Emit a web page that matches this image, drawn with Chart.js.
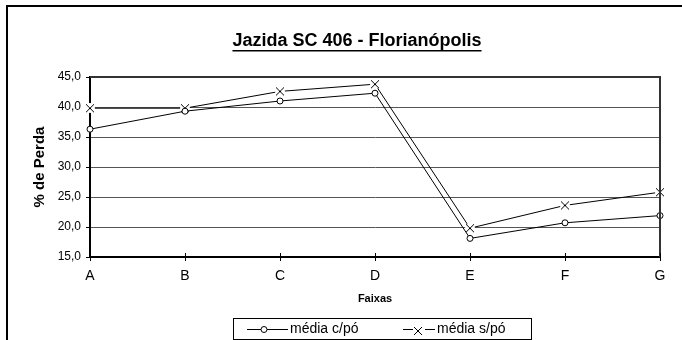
<!DOCTYPE html>
<html lang="pt">
<head>
<meta charset="utf-8">
<script src="https://cdn.jsdelivr.net/npm/chart.js@4.4.1/dist/chart.umd.min.js"></script>
<style>
  html, body { margin: 0; padding: 0; background: #fff; }
  #wrap { width: 682px; height: 340px; }
</style>
</head>
<body>
<div id="wrap"><canvas id="grafico" width="682" height="340"></canvas></div>
<script>
const faixas = ['A', 'B', 'C', 'D', 'E', 'F', 'G'];
const mediaComPo = [36.3, 39.3, 41.0, 42.3, 18.1, 20.7, 21.9];
const mediaSemPo = [39.8, 39.8, 42.6, 43.8, 19.8, 23.6, 25.8];
const yMin = 15, yMax = 45, yPasso = 5;
const titulo = 'Jazida SC 406 - Florianópolis';
const tituloY = '% de Perda';
const tituloX = 'Faixas';
const nomes = ['média c/pó', 'média s/pó'];

const fonte = '"Liberation Sans", Arial, sans-serif';

// X com fundo branco, a linha para antes do ponto
function marcaX(tam) {
  const c = document.createElement('canvas');
  c.width = tam; c.height = tam;
  const g = c.getContext('2d');
  g.fillStyle = '#fff';
  g.beginPath(); g.arc(tam / 2, tam / 2, tam / 2, 0, Math.PI * 2); g.fill();
  g.strokeStyle = '#000'; g.lineWidth = 1;
  g.beginPath();
  g.moveTo(1, 1); g.lineTo(tam - 1, tam - 1);
  g.moveTo(tam - 1, 1); g.lineTo(1, tam - 1);
  g.stroke();
  return c;
}
const xis = marcaX(10);

// moldura, titulo, legenda
const moldura = {
  id: 'moldura',
  beforeDraw(chart) {
    const ctx = chart.ctx;
    ctx.save();
    ctx.fillStyle = '#fff';
    ctx.fillRect(0, 0, chart.width, chart.height);
    ctx.strokeStyle = '#000';
    ctx.lineWidth = 2;
    ctx.beginPath();
    ctx.moveTo(6, 6); ctx.lineTo(chart.width, 6);
    ctx.moveTo(7, 6); ctx.lineTo(7, chart.height);
    ctx.stroke();
    ctx.restore();
  },
  afterDraw(chart) {
    const ctx = chart.ctx;
    const a = chart.chartArea;
    const sx = chart.scales.x;
    ctx.save();
    // borda de cima e da direita
    ctx.strokeStyle = '#333';
    ctx.lineWidth = 2;
    ctx.beginPath();
    ctx.moveTo(a.left, a.top); ctx.lineTo(a.right, a.top); ctx.lineTo(a.right, a.bottom);
    ctx.stroke();
    // tracinhos do eixo x para cima
    ctx.strokeStyle = '#000';
    ctx.lineWidth = 1;
    ctx.beginPath();
    sx.ticks.forEach((t, i) => {
      const px = Math.round(sx.getPixelForTick(i)) + 0.5;
      ctx.moveTo(px, a.bottom - 4); ctx.lineTo(px, a.bottom);
    });
    ctx.stroke();

    // titulo sublinhado
    ctx.fillStyle = '#000';
    ctx.font = 'bold 18px ' + fonte;
    ctx.textAlign = 'center';
    ctx.textBaseline = 'alphabetic';
    ctx.fillText(titulo, 357, 46);
    const w = ctx.measureText(titulo).width;
    ctx.fillRect(357 - w / 2, 50, w, 1.5);

    // legenda
    ctx.lineWidth = 1;
    ctx.strokeRect(233.5, 318.5, 298, 21);
    const yc = 329.5;
    const itens = [
      { seg: [[247, 288]], m: 264, tx: 290 },
      { seg: [[403, 413], [425, 435]], m: 418, tx: 437 }
    ];
    ctx.font = '14px ' + fonte;
    ctx.textAlign = 'left';
    ctx.textBaseline = 'middle';
    chart.data.datasets.forEach((ds, i) => {
      const it = itens[i];
      ctx.beginPath();
      it.seg.forEach(s => { ctx.moveTo(s[0], yc); ctx.lineTo(s[1], yc); });
      ctx.stroke();
      if (i === 0) {
        ctx.beginPath();
        ctx.arc(it.m, yc, 3, 0, Math.PI * 2);
        ctx.fillStyle = '#fff'; ctx.fill(); ctx.stroke();
      } else {
        ctx.drawImage(xis, it.m - 5, Math.round(yc - 4));
      }
      ctx.fillStyle = '#000';
      ctx.fillText(ds.label, it.tx, yc);
    });
    ctx.restore();
  }
};

new Chart(document.getElementById('grafico'), {
  type: 'line',
  data: {
    labels: faixas,
    datasets: [
      {
        label: nomes[0],
        data: mediaComPo,
        borderColor: '#000',
        borderWidth: 1,
        pointStyle: 'circle',
        pointRadius: 3,
        pointBackgroundColor: '#fff',
        pointBorderColor: '#000',
        pointBorderWidth: 1,
        tension: 0
      },
      {
        label: nomes[1],
        data: mediaSemPo,
        borderColor: '#000',
        borderWidth: 1,
        pointStyle: xis,
        pointRadius: 5,
        tension: 0
      }
    ]
  },
  options: {
    responsive: false,
    animation: false,
    devicePixelRatio: 1,
    layout: { padding: { left: 31, right: 22, top: 77, bottom: 29 } },
    plugins: {
      legend: { display: false },
      title: { display: false },
      tooltip: { enabled: false }
    },
    scales: {
      x: {
        type: 'category',
        offset: false,
        afterFit(s) { s.height = 54; },
        grid: { drawOnChartArea: false, drawTicks: true, tickLength: 4, tickColor: '#000' },
        border: { display: true, color: '#000', width: 2 },
        ticks: { color: '#000', font: { family: fonte, size: 14 }, padding: 7, maxRotation: 0 },
        title: { display: true, text: tituloX, color: '#000', font: { family: fonte, size: 11, weight: 'bold' }, padding: { top: 0, bottom: 5 } }
      },
      y: {
        min: yMin,
        max: yMax,
        afterFit(s) { s.width = 59; },
        grid: { color: '#555', lineWidth: 1, tickLength: 4, tickColor: '#000' },
        border: { display: true, color: '#000', width: 2 },
        ticks: {
          stepSize: yPasso,
          color: '#000',
          padding: 5,
          font: { family: fonte, size: 12 },
          callback: v => v.toFixed(1).replace('.', ',')
        },
        title: { display: true, text: tituloY, color: '#000', font: { family: fonte, size: 15, weight: 'bold' }, padding: { top: 0, bottom: 0 } }
      }
    }
  },
  plugins: [moldura]
});
</script>
</body>
</html>
